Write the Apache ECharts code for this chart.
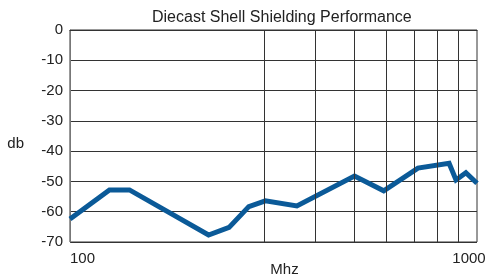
<!DOCTYPE html>
<html>
<head>
<meta charset="utf-8">
<script src="https://cdn.jsdelivr.net/npm/echarts@6/dist/echarts.min.js"></script>
<style>
  html, body { margin: 0; padding: 0; background: #fff; }
  #chart { width: 487px; height: 275px; }
</style>
</head>
<body>
<div id="chart"></div>
<script>
// frequency (Mhz) and shielding (db)
const freqs = [100, 125, 140, 219, 246, 275, 302, 361, 500, 590, 716, 854, 888, 939, 1000]
const shielding = [-62.4, -52.8, -52.8, -67.7, -65.2, -58.3, -56.4, -58.1, -48.2, -53.1, -45.6, -44.0, -49.5, -47.1, -50.6]
// vertical grid lines inside the decade (200 is not drawn in the original)
const gridFreqs = [300, 400, 500, 600, 700, 800, 900]
const xLabels = [100, 1000]

const font = 'Liberation Sans, Arial, Helvetica, sans-serif'
const chart = echarts.init(document.getElementById('chart'))

chart.setOption({
  animation: false,
  title: {
    text: 'Diecast Shell Shielding Performance',
    left: 147,
    top: 5,
    textStyle: { fontFamily: font, fontSize: 16, fontWeight: 'normal', color: '#222' }
  },
  grid: {
    left: 70,
    right: 10,
    top: 30,
    bottom: 33,
    outerBoundsMode: 'none',
    containLabel: false,
    show: true,
    borderColor: '#333',
    borderWidth: 1
  },
  xAxis: {
    type: 'log',
    logBase: 10,
    min: 100,
    max: 1000,
    name: 'Mhz',
    nameLocation: 'middle',
    nameGap: 20,
    nameMoveOverlap: false,
    nameTextStyle: { fontFamily: font, fontSize: 15, color: '#222', padding: [0, 0, 0, 22] },
    axisLine: { show: true, lineStyle: { color: '#333', width: 1 } },
    axisTick: { show: false },
    splitLine: { show: false },
    axisLabel: {
      margin: 9,
      fontFamily: font,
      fontSize: 15,
      color: '#222',
      alignMinLabel: 'left',
      alignMaxLabel: 'center',
      formatter: function(v) {
        if (v === xLabels[1]) return '{r|' + v + '}'
        return xLabels.indexOf(v) >= 0 ? String(v) : ''
      },
      rich: {
        r: { fontFamily: font, fontSize: 15, color: '#222', padding: [0, 16, 0, 0] }
      }
    }
  },
  yAxis: {
    type: 'value',
    min: -70,
    max: 0,
    interval: 10,
    name: 'db',
    nameLocation: 'middle',
    nameRotate: 0,
    nameGap: 46,
    nameMoveOverlap: false,
    nameTextStyle: { fontFamily: font, fontSize: 15, color: '#222', verticalAlign: 'top' },
    axisLine: { show: true, lineStyle: { color: '#777', width: 1 } },
    axisTick: { show: false },
    axisLabel: { margin: 7, fontFamily: font, fontSize: 15, color: '#222' },
    splitLine: { show: true, lineStyle: { color: '#333', width: 1 } }
  },
  series: [{
    type: 'line',
    data: freqs.map((f, i) => [f, shielding[i]]),
    symbol: 'none',
    lineStyle: { color: '#0b5a98', width: 5, join: 'miter' },
    markLine: {
      silent: true,
      symbol: 'none',
      label: { show: false },
      lineStyle: { color: '#333', width: 1, type: 'solid' },
      data: gridFreqs.map(f => ({ xAxis: f }))
    },
    z: 3
  }]
})
</script>
</body>
</html>
